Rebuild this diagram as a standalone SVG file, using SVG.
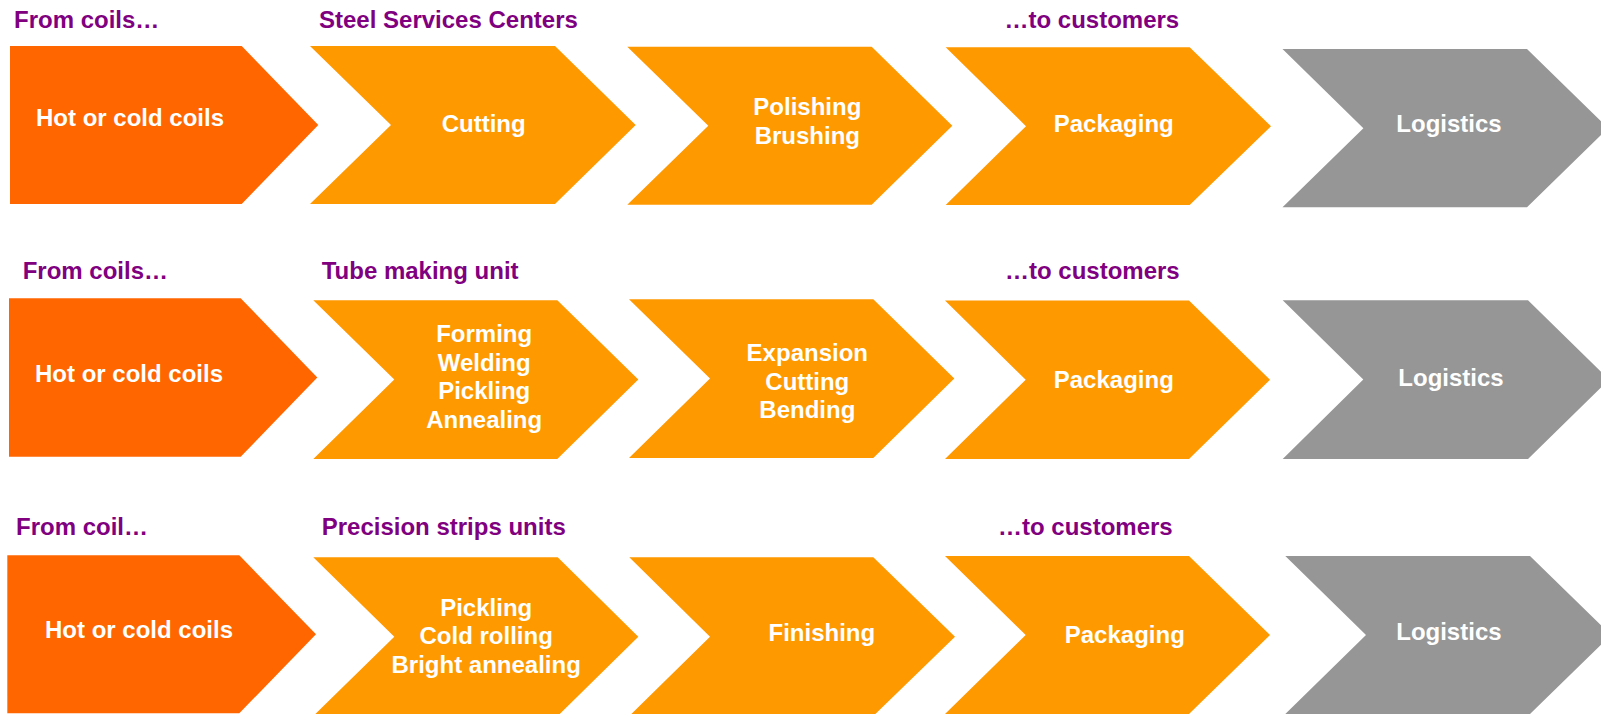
<svg xmlns="http://www.w3.org/2000/svg" width="1601" height="714" viewBox="0 0 1601 714">
  <style>
    text { font-family: "Liberation Sans", Arial, sans-serif; font-weight: bold; font-size: 24px; }
    .hdr { fill: #800080; }
    .lbl { fill: #ffffff; }
    .mid { text-anchor: middle; }
    .coil { fill: #ff6600; }
    .step { fill: #ff9900; }
    .ship { fill: #969696; }
  </style>
  <rect width="1601" height="714" fill="#ffffff"/>

  <!-- Row 1: steel service centers -->
  <g id="row1-headers">
    <text class="hdr" x="14" y="27.5">From coils…</text>
    <text class="hdr" x="319" y="27.5">Steel Services Centers</text>
    <text class="hdr" x="1004.5" y="27.5">…to customers</text>
  </g>
  <g id="r1-coils">
    <polygon class="coil" points="10,46 241.7,46 318.3,125 241.7,204 10,204"/>
    <text class="lbl" x="36" y="125.5">Hot or cold coils</text>
  </g>
  <g id="r1-cutting">
    <polygon class="step" points="310,46 555,46 635.7,125 555,204 310,204 391,125"/>
    <text class="lbl mid" x="483.7" y="132.2">Cutting</text>
  </g>
  <g id="r1-polishing">
    <polygon class="step" points="627.3,46.7 871.7,46.7 952.3,125.7 871.7,204.7 627.3,204.7 708.3,125.7"/>
    <text class="lbl mid" x="807.3" y="115">Polishing</text>
    <text class="lbl mid" x="807.3" y="144">Brushing</text>
  </g>
  <g id="r1-packaging">
    <polygon class="step" points="945.7,47.3 1189.7,47.3 1271,126.2 1189.7,205 945.7,205 1026,126.2"/>
    <text class="lbl mid" x="1113.7" y="132.2">Packaging</text>
  </g>
  <g id="r1-logistics">
    <polygon class="ship" points="1282.5,49 1527,49 1608,128.2 1527,207.3 1282.5,207.3 1363.4,128.2"/>
    <text class="lbl mid" x="1449" y="131.5">Logistics</text>
  </g>

  <!-- Row 2: tube making -->
  <g id="row2-headers">
    <text class="hdr" x="22.7" y="279">From coils…</text>
    <text class="hdr" x="321.7" y="279">Tube making unit</text>
    <text class="hdr" x="1005" y="279">…to customers</text>
  </g>
  <g id="r2-coils">
    <polygon class="coil" points="9,298.3 240.7,298.3 317.3,377.5 240.7,456.7 9,456.7"/>
    <text class="lbl" x="35" y="382.2">Hot or cold coils</text>
  </g>
  <g id="r2-forming">
    <polygon class="step" points="313.3,300.3 557.3,300.3 638.3,379.6 557.3,459 313.3,459 394.3,379.6"/>
    <text class="lbl mid" x="484.2" y="342.2">Forming</text>
    <text class="lbl mid" x="484.2" y="370.7">Welding</text>
    <text class="lbl mid" x="484.2" y="399.2">Pickling</text>
    <text class="lbl mid" x="484.2" y="427.8">Annealing</text>
  </g>
  <g id="r2-expansion">
    <polygon class="step" points="629,299.3 873.3,299.3 954.3,378.6 873.3,458 629,458 710,378.6"/>
    <text class="lbl mid" x="807.3" y="361.2">Expansion</text>
    <text class="lbl mid" x="807.3" y="389.5">Cutting</text>
    <text class="lbl mid" x="807.3" y="417.9">Bending</text>
  </g>
  <g id="r2-packaging">
    <polygon class="step" points="945,300.5 1189,300.5 1270,379.7 1189,459 945,459 1025.7,379.7"/>
    <text class="lbl mid" x="1113.8" y="388">Packaging</text>
  </g>
  <g id="r2-logistics">
    <polygon class="ship" points="1282.7,300.3 1528,300.3 1609,379.6 1528,459 1282.7,459 1363.3,379.6"/>
    <text class="lbl mid" x="1451" y="386">Logistics</text>
  </g>

  <!-- Row 3: precision strips -->
  <g id="row3-headers">
    <text class="hdr" x="16" y="534.5">From coil…</text>
    <text class="hdr" x="321.7" y="534.5">Precision strips units</text>
    <text class="hdr" x="998" y="534.5">…to customers</text>
  </g>
  <g id="r3-coils">
    <polygon class="coil" points="7.3,555.3 239.3,555.3 316,634.3 239.3,713.3 7.3,713.3"/>
    <text class="lbl" x="45" y="637.9">Hot or cold coils</text>
  </g>
  <g id="r3-pickling">
    <polygon class="step" points="313.3,557.3 557.7,557.3 638.3,636.7 557.7,716 313.3,716 394.3,636.7"/>
    <text class="lbl mid" x="486.2" y="615.5">Pickling</text>
    <text class="lbl mid" x="486.2" y="644.4">Cold rolling</text>
    <text class="lbl mid" x="486.2" y="673.2">Bright annealing</text>
  </g>
  <g id="r3-finishing">
    <polygon class="step" points="629.3,557.3 873.3,557.3 955,636.7 873.3,716 629.3,716 710,636.7"/>
    <text class="lbl mid" x="821.8" y="640.5">Finishing</text>
  </g>
  <g id="r3-packaging">
    <polygon class="step" points="945,556 1189,556 1270,635 1189,714 945,714 1025.7,635"/>
    <text class="lbl mid" x="1124.8" y="643">Packaging</text>
  </g>
  <g id="r3-logistics">
    <polygon class="ship" points="1285.3,556 1530,556 1611,635 1530,714 1285.3,714 1366,635"/>
    <text class="lbl mid" x="1448.9" y="640">Logistics</text>
  </g>

  <g id="connectors"/>
</svg>
